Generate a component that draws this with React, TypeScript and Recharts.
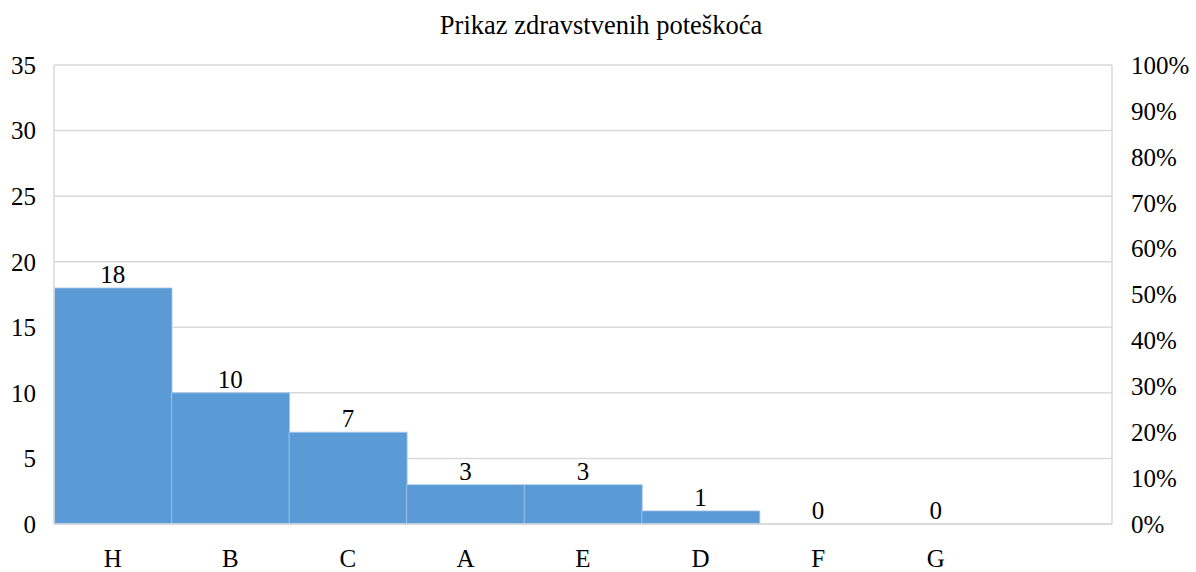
import {
  ComposedChart,
  Bar,
  Line,
  XAxis,
  YAxis,
  CartesianGrid,
  LabelList,
} from 'recharts';

const categories = ['H', 'B', 'C', 'A', 'E', 'D', 'F', 'G', ''];
const counts: (number | null)[] = [18, 10, 7, 3, 3, 1, 0, 0, null];
const leftTicks = [0, 5, 10, 15, 20, 25, 30, 35];
const rightTicks = [0, 0.1, 0.2, 0.3, 0.4, 0.5, 0.6, 0.7, 0.8, 0.9, 1];

const data = categories.map((name, i) => ({ name, count: counts[i] }));

const font = "'Liberation Serif', 'DejaVu Serif', serif";
const tickStyle = { fill: '#000', fontSize: 25 };
const gridColor = '#d9d9d9';

const App = () => {
  return (
    <div
      style={{
        position: 'absolute',
        left: 0,
        top: 0,
        width: 1196,
        height: 572,
        background: '#fff',
        fontFamily: font,
      }}
    >
      <ComposedChart
        width={1196}
        height={572}
        data={data}
        margin={{ top: 65, right: 0, left: 0, bottom: 0 }}
        barCategoryGap={0}
        barGap={0}
        style={{ fontFamily: font }}
      >
        <text
          x={601}
          y={34}
          textAnchor="middle"
          style={{ fontSize: 26.5, fill: '#000' }}
        >
          Prikaz zdravstvenih poteškoća
        </text>
        <CartesianGrid vertical={false} stroke={gridColor} strokeWidth={1.5} yAxisId="left" />
        <XAxis
          dataKey="name"
          height={48}
          tickLine={false}
          tickSize={0}
          tickMargin={25}
          axisLine={{ stroke: gridColor, strokeWidth: 1.5 }}
          tick={tickStyle}
          interval={0}
        />
        <YAxis
          yAxisId="left"
          orientation="left"
          width={54}
          domain={[0, 35]}
          ticks={leftTicks}
          tickLine={false}
          tickSize={0}
          tickMargin={18}
          axisLine={{ stroke: gridColor, strokeWidth: 1.5 }}
          tick={tickStyle}
        />
        <YAxis
          yAxisId="right"
          orientation="right"
          width={84}
          domain={[0, 1]}
          ticks={rightTicks}
          allowDataOverflow
          tickFormatter={(v: number) => `${Math.round(v * 100)}%`}
          tickLine={false}
          tickSize={0}
          tickMargin={19}
          axisLine={{ stroke: gridColor, strokeWidth: 1.5 }}
          tick={{ ...tickStyle, textAnchor: 'start' }}
        />
        <Bar
          yAxisId="left"
          dataKey="count"
          fill="#5b9bd5"
          stroke="#a8c8ec"
          strokeWidth={0.8}
          isAnimationActive={false}
        />
        {/* invisible line only carries the value labels (bars skip 0 labels) */}
        <Line
          yAxisId="left"
          dataKey="count"
          stroke="none"
          dot={false}
          activeDot={false}
          legendType="none"
          isAnimationActive={false}
        >
          <LabelList
            dataKey="count"
            position="top"
            offset={5}
            formatter={(v: any) => (v === null || v === undefined ? '' : String(v))}
            style={{ fill: '#000', fontSize: 25 }}
          />
        </Line>
        <Line
          yAxisId="right"
          dataKey="share"
          stroke="none"
          dot={false}
          activeDot={false}
          legendType="none"
          isAnimationActive={false}
        />
      </ComposedChart>
    </div>
  );
};

export default App;
